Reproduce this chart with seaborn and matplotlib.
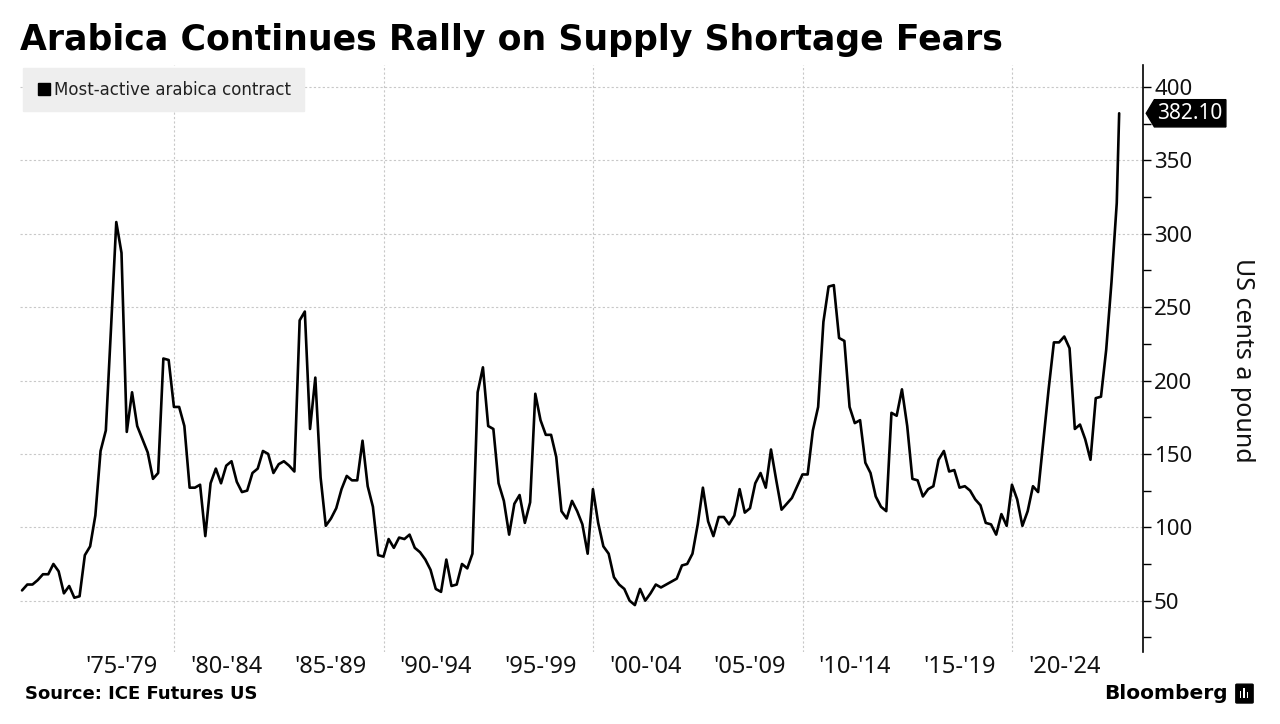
import matplotlib
matplotlib.use("Agg")
import matplotlib.pyplot as plt
from matplotlib.lines import Line2D
from matplotlib.patches import FancyBboxPatch, Rectangle
from matplotlib.path import Path
from matplotlib.ticker import MultipleLocator
import pandas as pd
import seaborn as sns

# Text
title = "Arabica Continues Rally on Supply Shortage Fears"
series_name = "Most-active arabica contract"
y_label = "US cents a pound"
source = "Source: ICE Futures US"
brand = "Bloomberg"

# Quarterly closes (US cents a pound), 1972 Q3 .. 2024 Q4 + latest
first_quarter_end = "1972-09-30"
latest_date = "2025-02-11"
prices = [
    57, 61, 61, 64, 68, 68, 75, 70, 55, 60,
    52, 53, 81, 87, 108, 152, 166, 237, 308, 287,
    165, 192, 169, 160, 151, 133, 137, 215, 214, 182,
    182, 169, 127, 127, 129, 94, 130, 140, 130, 142,
    145, 131, 124, 125, 137, 140, 152, 150, 137, 143,
    145, 142, 138, 241, 247, 167, 202, 134, 101, 106,
    113, 126, 135, 132, 132, 159, 128, 114, 81, 80,
    92, 86, 93, 92, 95, 86, 83, 78, 71, 58,
    56, 78, 60, 61, 75, 72, 82, 192, 209, 169,
    167, 130, 118, 95, 116, 122, 103, 117, 191, 173,
    163, 163, 148, 111, 106, 118, 111, 102, 82, 126,
    103, 87, 82, 66, 61, 58, 50, 47, 58, 50,
    55, 61, 59, 61, 63, 65, 74, 75, 82, 102,
    127, 104, 94, 107, 107, 102, 108, 126, 110, 113,
    130, 137, 127, 153, 132, 112, 116, 120, 128, 136,
    136, 166, 182, 240, 264, 265, 229, 227, 182, 171,
    173, 144, 137, 121, 114, 111, 178, 176, 194, 169,
    133, 132, 121, 126, 128, 146, 152, 138, 139, 127,
    128, 125, 119, 115, 103, 102, 95, 109, 101, 129,
    119, 101, 111, 128, 124, 159, 194, 226, 226, 230,
    222, 167, 170, 160, 146, 188, 189, 221, 267, 321,
    382.10,
]

# Axis setup
period_starts = [1975, 1980, 1985, 1990, 1995, 2000, 2005, 2010, 2015, 2020]
period_labels = ["'75-'79", "'80-'84", "'85-'89", "'90-'94", "'95-'99",
                 "'00-'04", "'05-'09", "'10-'14", "'15-'19", "'20-'24"]
grid_years = [1980, 1990, 2000, 2010, 2020]
y_ticks = [50, 100, 150, 200, 250, 300, 350, 400]

dates = pd.date_range(first_quarter_end, periods=len(prices) - 1, freq="QE")
dates = dates.append(pd.DatetimeIndex([latest_date]))
df = pd.DataFrame({"date": dates, "price": prices})


def tag_box(x0, y0, width, height, mutation_size):
    # price tag shape pointing left, used for the last value label
    pad = 0.15 * mutation_size
    x0, y0 = x0 - pad, y0 - pad
    x1, y1 = x0 + width + 2 * pad, y0 + height + 2 * pad
    tip = 0.3 * (y1 - y0)
    ym = (y0 + y1) / 2
    return Path([(x0 - tip, ym), (x0, y1), (x1, y1), (x1, y0), (x0, y0), (x0 - tip, ym)],
                closed=True)


sns.set_style("white")
plt.rcParams["font.family"] = ["DejaVu Sans"]

fig = plt.figure(figsize=(12.8, 7.24), dpi=100)
ax = fig.add_axes([0.0156, 0.0994, 0.8773, 0.8108])

sns.lineplot(data=df, x="date", y="price", ax=ax, color="black",
             linewidth=1.9, legend=False)

ax.set_xlim(pd.Timestamp("1972-08-25"), pd.Timestamp("2026-04-01"))
ax.set_ylim(15, 415)

# y axis on the right
ax.yaxis.tick_right()
ax.set_yticks(y_ticks)
ax.yaxis.set_minor_locator(MultipleLocator(25))
ax.tick_params(axis="y", which="both", direction="out", length=6, width=1,
               colors="black", labelsize=16, pad=2)
for lab in ax.get_yticklabels():
    lab.set_fontfamily("Noto Sans")
    lab.set_color("#111111")

# x labels in the middle of 5 year periods, gridlines at decades
ax.set_xticks([pd.Timestamp(f"{y + 2}-07-02") for y in period_starts])
ax.set_xticklabels(period_labels, fontsize=17, family="Noto Sans", color="#111111")
ax.set_xticks([pd.Timestamp(f"{y}-01-01") for y in grid_years], minor=True)
ax.tick_params(axis="x", which="both", length=0, pad=2)

ax.grid(axis="y", which="major", color="#c8c8c8", linestyle=(0, (2, 2)), linewidth=0.8)
ax.grid(axis="x", which="minor", color="#c8c8c8", linestyle=(0, (2, 2)), linewidth=0.8)
ax.grid(axis="x", which="major", visible=False)

ax.set_xlabel("")
ax.set_ylabel("")
for side in ["left", "top", "bottom"]:
    ax.spines[side].set_visible(False)
ax.spines["right"].set_color("black")
ax.spines["right"].set_linewidth(1.2)

# latest value tag
ax.text(1.013, prices[-1], f"{prices[-1]:.2f}", transform=ax.get_yaxis_transform(),
        ha="left", va="center", color="white", fontsize=15, family="Noto Sans",
        bbox=dict(boxstyle=tag_box, fc="black", ec="black"), clip_on=False)

# legend
handle = Line2D([0], [0], marker="s", color="black", linestyle="none", markersize=8)
leg = ax.legend(handles=[handle], labels=[series_name], loc="upper left",
                bbox_to_anchor=(0.0, 1.0), borderaxespad=0.2, frameon=True,
                fancybox=False, facecolor="#eeeeee", edgecolor="#eeeeee",
                framealpha=1, fontsize=12, handletextpad=0.1,
                handlelength=1.0, borderpad=0.75)
for t in leg.get_texts():
    t.set_color("#222222")

# titles and footer
fig.text(0.0156, 0.945, title, fontsize=25, fontweight="bold", color="black",
         ha="left", va="center")
fig.text(1243 / 1280, 1 - 360 / 724, y_label, rotation=270, fontsize=18,
         family="Noto Sans", ha="center", va="center", color="#111111")
fig.text(0.0195, 0.041, source, fontsize=13, fontweight="bold", ha="left",
         va="center", color="black")
fig.text(0.959, 0.042, brand, fontsize=14.5, fontweight="bold", ha="right",
         va="center", color="black")

# small logo mark
logo = FancyBboxPatch((0.9665, 0.030), 0.0115, 0.024, boxstyle="round,pad=0.001",
                      transform=fig.transFigure, fc="black", ec="black")
fig.patches.append(logo)
for i, h in enumerate([0.010, 0.014, 0.008]):
    fig.patches.append(Rectangle((0.9687 + i * 0.0027, 0.036), 0.0012, h,
                                 transform=fig.transFigure, fc="white", ec="none"))

fig.savefig("out.png", dpi=100)
